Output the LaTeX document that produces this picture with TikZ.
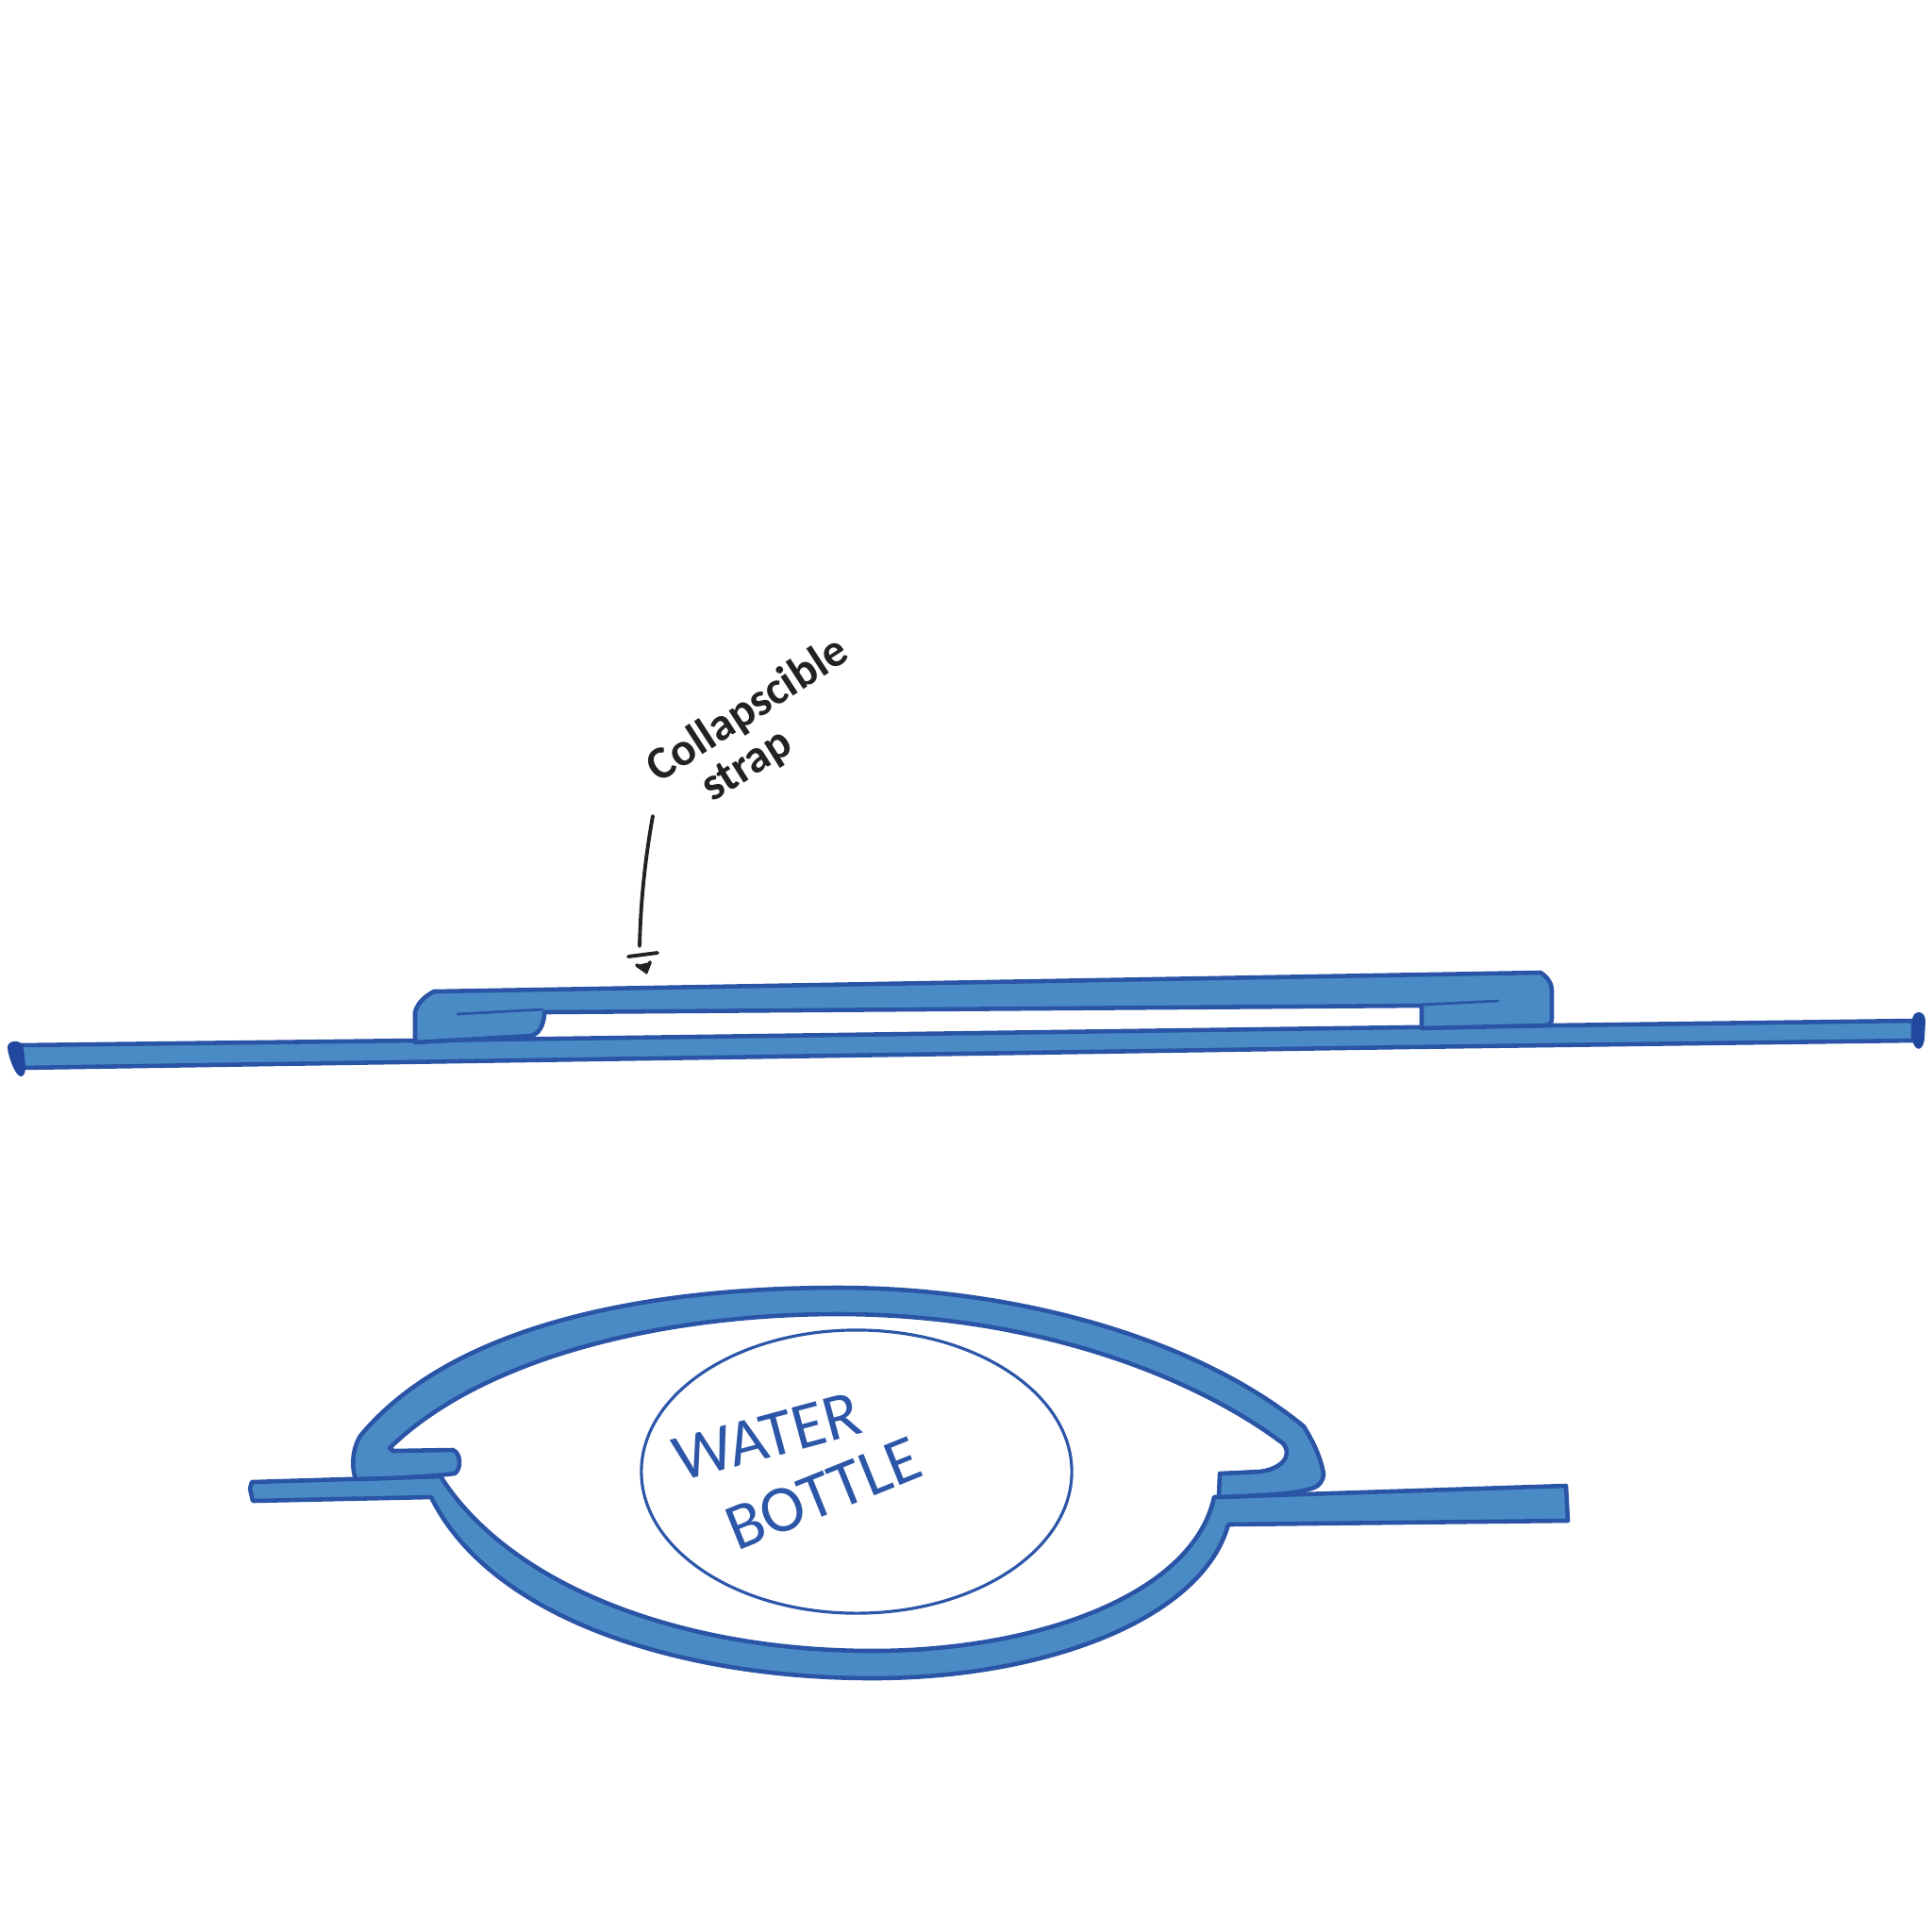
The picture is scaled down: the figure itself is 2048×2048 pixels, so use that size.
\documentclass[tikz,border=0pt]{standalone}
\usepackage{fontspec}
\setmainfont{Carlito}
\usepackage{tikz}
\usetikzlibrary{shapes.geometric}
\usepackage{xcolor}
\definecolor{strapblue}{HTML}{4A8BC6}
\definecolor{strapedge}{HTML}{2A54A6}
\definecolor{capblue}{HTML}{20489E}
\definecolor{inkblue}{HTML}{2C56A8}
\definecolor{inkblack}{HTML}{222222}

\begin{document}
\begin{tikzpicture}[
  x=0.01cm, y=-0.01cm,
  band/.style={draw=strapedge, fill=strapblue, line width=1.3pt, line join=round},
  slit/.style={draw=strapedge, line width=0.8pt, line cap=round},
  endcap/.style={fill=capblue, draw=none},
  bottle/.style={ellipse, draw=inkblue, line width=0.9pt, inner sep=0pt,
                 minimum width=4.56cm, minimum height=3cm},
  note/.style={text=inkblack, font=\fontsize{14}{14}\selectfont\bfseries},
  inklabel/.style={text=inkblue, font=\fontsize{20}{20}\selectfont},
  pointer/.style={draw=inkblack, line width=1.1pt, line cap=round},
]
  \useasboundingbox (0,0) rectangle (2048,2048);

  % flat strap
  \draw[band] (20,1108) -- (440,1103) -- (1490,1089) -- (2028,1082)
    -- (2028,1103) -- (1490,1110) -- (620,1123) -- (20,1132) -- cycle;
  % end caps
  \fill[endcap] (8,1112) .. controls (6,1102) and (24,1100) .. (25,1112)
    .. controls (26,1122) and (30,1141) .. (22,1141)
    .. controls (17,1141) and (10,1124) .. (8,1112) -- cycle;
  \fill[endcap] (2027,1082) .. controls (2027,1070) and (2041,1070) .. (2041,1082)
    -- (2040,1102) .. controls (2038,1115) and (2030,1115) .. (2027,1102) -- cycle;
  % raised loop on the strap
  \draw[band] (440,1105) -- (440,1073) .. controls (442,1064) and (450,1056) .. (460,1051)
    -- (1633,1031) .. controls (1641,1036) and (1645,1043) .. (1645,1050)
    -- (1645,1080) .. controls (1645,1085) and (1642,1087) .. (1637,1087)
    -- (1507,1090) -- (1507,1066) -- (577,1073)
    .. controls (577,1085) and (572,1096) .. (563,1098) -- cycle;
  \draw[slit] (485,1075) -- (575,1070);
  \draw[slit] (1507,1065) -- (1588,1061);

  % note and its pointer
  \node[note, rotate=33] (collapsible) at (793,753) {Collapscible};
  \node[note, rotate=32] (strapnote) at (793,813) {strap};
  \coordinate (ptrtop) at (692,865);
  \coordinate (ptrend) at (678,1003);
  \draw[pointer] (ptrtop) .. controls (683,915) and (679,960) .. (ptrend);
  \draw[pointer] (666,1014) -- (697,1010);
  \draw[pointer, fill=inkblack] (675,1023) -- (685,1030) -- (689,1020);

  % strap around the bottle
  \draw[band] (265,1578) -- (267,1571) -- (467,1565)
    .. controls (540,1680) and (720,1750) .. (925,1750)
    .. controls (1100,1750) and (1265,1690) .. (1287,1587)
    -- (1660,1575) -- (1662,1612) -- (1302,1616)
    .. controls (1275,1715) and (1110,1779) .. (925,1779)
    .. controls (720,1779) and (520,1715) .. (457,1587)
    -- (268,1591) -- cycle;
  \draw[band] (377,1568) .. controls (372,1553) and (374,1535) .. (382,1522)
    .. controls (475,1410) and (670,1365) .. (888,1365)
    .. controls (1080,1365) and (1270,1420) .. (1382,1512)
    .. controls (1392,1528) and (1400,1545) .. (1403,1562)
    .. controls (1403,1570) and (1398,1575) .. (1393,1577)
    .. controls (1375,1583) and (1350,1585) .. (1292,1587)
    -- (1293,1562) -- (1335,1560)
    .. controls (1355,1558) and (1372,1545) .. (1360,1530)
    .. controls (1260,1455) and (1090,1393) .. (888,1393)
    .. controls (700,1393) and (510,1440) .. (413,1535)
    -- (417,1538) -- (480,1537)
    .. controls (489,1540) and (489,1558) .. (482,1562)
    .. controls (450,1566) and (410,1567) .. (377,1568) -- cycle;

  % bottle
  \node[bottle] (bottle) at (908,1560) {};
  \node[inklabel, rotate=15] (water) at (813,1523) {WATER};
  \node[inklabel, rotate=22] (bottlename) at (873,1583) {BOTTLE};
\end{tikzpicture}
\end{document}
